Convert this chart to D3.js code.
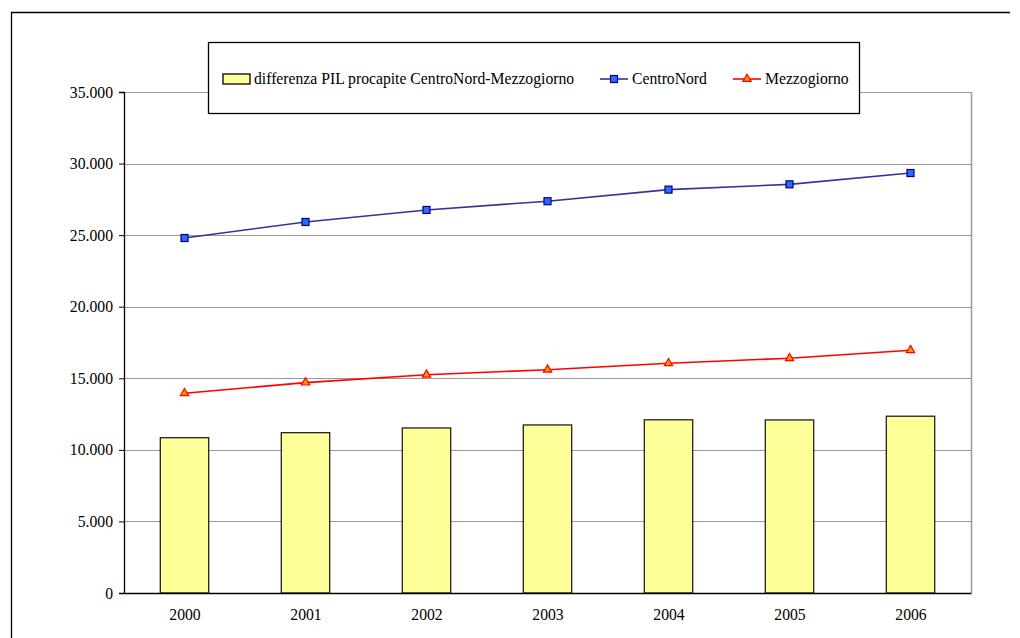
<!DOCTYPE html>
<html>
<head>
<meta charset="utf-8">
<script src="https://cdn.jsdelivr.net/npm/d3@7"></script>
<style>
  body { margin: 0; background: #fff; }
  text { font-family: 'Liberation Serif', 'Times New Roman', serif; fill: #000; }
</style>
</head>
<body>
<div id="chart"></div>
<script>
const years = ['2000', '2001', '2002', '2003', '2004', '2005', '2006']
const differenza = [10850, 11200, 11530, 11740, 12100, 12090, 12350]
const centroNord = [24800, 25920, 26760, 27370, 28180, 28550, 29340]
const mezzogiorno = [13950, 14700, 15250, 15600, 16050, 16400, 16960]
const yTicks = [0, 5000, 10000, 15000, 20000, 25000, 30000, 35000]

const width = 1020
const height = 638
const margin = { top: 92, left: 124, right: 49, bottom: 45 }
const innerW = width - margin.left - margin.right
const innerH = height - margin.top - margin.bottom
const fontFamily = "'Liberation Serif', 'Times New Roman', serif"
const fontSize = '15.7px'

const svg = d3
  .select('#chart')
  .append('svg')
  .attr('width', width)
  .attr('height', height)

// outer frame of the chart object
svg
  .append('path')
  .attr('d', `M11.5,${height} L11.5,12.5 L1010,12.5`)
  .attr('fill', 'none')
  .attr('stroke', '#000')
  .attr('stroke-width', 1.3)

const g = svg
  .append('g')
  .attr('transform', `translate(${margin.left},${margin.top})`)

const x = d3
  .scaleBand()
  .domain(years)
  .range([0, innerW])
  .paddingInner(0.6)
  .paddingOuter(0.3)

const xPoint = d3
  .scalePoint()
  .domain(years)
  .range([0, innerW])
  .padding(0.5)

const y = d3
  .scaleLinear()
  .domain([0, 35000])
  .range([innerH, 0])

const fmt = d => (d === 0 ? '0' : d3.format(',')(d).replace(/,/g, '.'))

// gridlines
g.selectAll('.grid')
  .data(yTicks.slice(1))
  .enter()
  .append('line')
  .attr('class', 'grid')
  .attr('x1', 0)
  .attr('x2', innerW)
  .attr('y1', d => Math.round(y(d)) + 0.5)
  .attr('y2', d => Math.round(y(d)) + 0.5)
  .attr('stroke', '#999')
  .attr('stroke-width', 1)

// right edge of plot area
g.append('line')
  .attr('x1', innerW + 0.5)
  .attr('x2', innerW + 0.5)
  .attr('y1', 0)
  .attr('y2', innerH)
  .attr('stroke', '#999')
  .attr('stroke-width', 1.5)

// bars
g.selectAll('.bar')
  .data(differenza)
  .enter()
  .append('rect')
  .attr('class', 'bar')
  .attr('x', (d, i) => xPoint(years[i]) - x.bandwidth() / 2)
  .attr('width', x.bandwidth())
  .attr('y', d => y(d))
  .attr('height', d => innerH - y(d))
  .attr('fill', '#ffff99')
  .attr('stroke', '#222')
  .attr('stroke-width', 1.3)

// y axis
const yAxis = g
  .append('g')
  .attr('font-family', fontFamily)
  .call(
    d3
      .axisLeft(y)
      .tickValues(yTicks)
      .tickSize(5)
      .tickPadding(6)
      .tickFormat(fmt)
  )
yAxis.select('.domain').attr('stroke', '#000').attr('stroke-width', 1.3)
yAxis.selectAll('.tick line').attr('stroke', '#000')
yAxis
  .selectAll('.tick text')
  .style('font-family', fontFamily)
  .style('font-size', fontSize)

// x axis
const xAxis = g
  .append('g')
  .attr('font-family', fontFamily)
  .attr('transform', `translate(0,${innerH})`)
  .call(d3.axisBottom(xPoint).tickSize(0).tickPadding(16))
xAxis.select('.domain').attr('stroke', '#000').attr('stroke-width', 1.3)
xAxis
  .selectAll('.tick text')
  .style('font-family', fontFamily)
  .style('font-size', fontSize)

const line = d3
  .line()
  .x((d, i) => xPoint(years[i]))
  .y(d => y(d))

// CentroNord line + square markers
g.append('path')
  .datum(centroNord)
  .attr('d', line)
  .attr('fill', 'none')
  .attr('stroke', '#333399')
  .attr('stroke-width', 1.6)

g.selectAll('.sq')
  .data(centroNord)
  .enter()
  .append('rect')
  .attr('class', 'sq')
  .attr('x', (d, i) => xPoint(years[i]) - 3.5)
  .attr('y', d => y(d) - 3.5)
  .attr('width', 7)
  .attr('height', 7)
  .attr('fill', '#3366ff')
  .attr('stroke', '#000080')
  .attr('stroke-width', 1.2)

// Mezzogiorno line + triangle markers
g.append('path')
  .datum(mezzogiorno)
  .attr('d', line)
  .attr('fill', 'none')
  .attr('stroke', '#ff0000')
  .attr('stroke-width', 1.6)

const tri = d3.symbol().type(d3.symbolTriangle).size(30)

g.selectAll('.tri')
  .data(mezzogiorno)
  .enter()
  .append('path')
  .attr('class', 'tri')
  .attr('d', tri)
  .attr('transform', (d, i) => `translate(${xPoint(years[i])},${y(d)})`)
  .attr('fill', '#ff9900')
  .attr('stroke', '#ff0000')
  .attr('stroke-width', 1.2)

// legend
const legend = svg.append('g')

legend
  .append('rect')
  .attr('x', 208.5)
  .attr('y', 42.5)
  .attr('width', 651)
  .attr('height', 71)
  .attr('fill', '#fff')
  .attr('stroke', '#000')
  .attr('stroke-width', 1.3)

const ly = 79

legend
  .append('rect')
  .attr('x', 223)
  .attr('y', ly - 5)
  .attr('width', 27)
  .attr('height', 10)
  .attr('fill', '#ffff99')
  .attr('stroke', '#000')
  .attr('stroke-width', 1.3)

legend
  .append('text')
  .attr('x', 254)
  .attr('y', ly + 5)
  .style('font-size', fontSize)
  .text('differenza PIL procapite CentroNord-Mezzogiorno')

legend
  .append('line')
  .attr('x1', 600)
  .attr('x2', 628)
  .attr('y1', ly)
  .attr('y2', ly)
  .attr('stroke', '#333399')
  .attr('stroke-width', 1.6)

legend
  .append('rect')
  .attr('x', 610.5)
  .attr('y', ly - 3.5)
  .attr('width', 7)
  .attr('height', 7)
  .attr('fill', '#3366ff')
  .attr('stroke', '#000080')
  .attr('stroke-width', 1.2)

legend
  .append('text')
  .attr('x', 632)
  .attr('y', ly + 5)
  .style('font-size', fontSize)
  .text('CentroNord')

legend
  .append('line')
  .attr('x1', 733)
  .attr('x2', 761)
  .attr('y1', ly)
  .attr('y2', ly)
  .attr('stroke', '#ff0000')
  .attr('stroke-width', 1.6)

legend
  .append('path')
  .attr('d', tri)
  .attr('transform', `translate(747,${ly})`)
  .attr('fill', '#ff9900')
  .attr('stroke', '#ff0000')
  .attr('stroke-width', 1.2)

legend
  .append('text')
  .attr('x', 765)
  .attr('y', ly + 5)
  .style('font-size', fontSize)
  .text('Mezzogiorno')
</script>
</body>
</html>
